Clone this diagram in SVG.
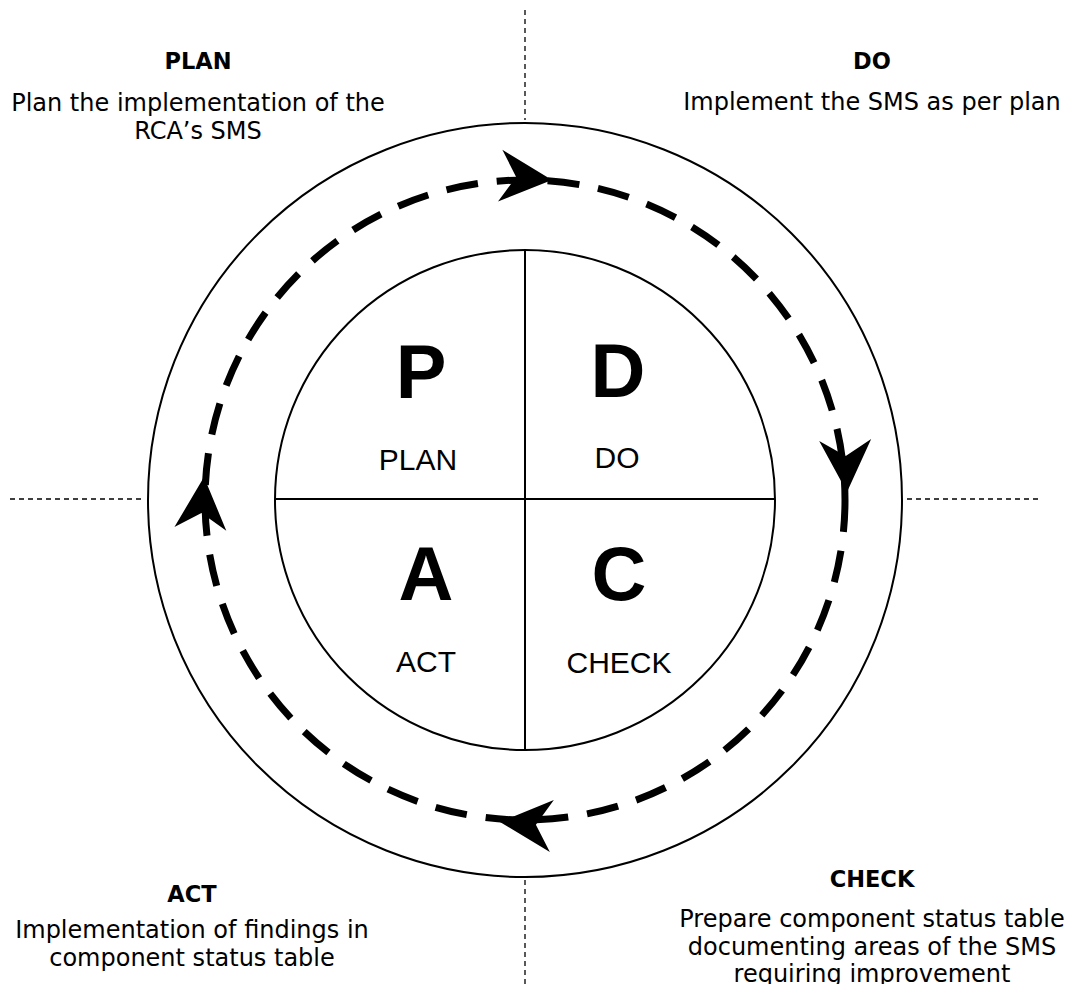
<svg xmlns="http://www.w3.org/2000/svg" width="1079" height="984" viewBox="0 0 1079 984">
<style>
.ring{fill:none;stroke:#000;stroke-width:2}
.div{stroke:#000;stroke-width:2}
.guide{stroke:#000;stroke-width:1.3;stroke-dasharray:5 4;fill:none}
.cycle{fill:none;stroke:#000;stroke-width:7;stroke-dasharray:32 19}
.big{font-family:"Liberation Sans",Arial,sans-serif;font-weight:bold;font-size:76px;text-anchor:middle;fill:#000}
.lbl{font-family:"Liberation Sans",Arial,sans-serif;font-size:30px;text-anchor:middle;fill:#000}
.hd{font-family:"DejaVu Sans",Verdana,sans-serif;font-weight:bold;font-size:22.5px;text-anchor:middle;fill:#000}
.bd{font-family:"DejaVu Sans",Verdana,sans-serif;font-size:24px;text-anchor:middle;fill:#000}
</style>
<defs>
<path id="ah" d="M0,0 L-52,-26 L-36,0 L-52,26 Z" fill="#000"/>
</defs>
<g id="guides">
<line class="guide" x1="525" y1="10" x2="525" y2="120"/>
<line class="guide" x1="525" y1="880" x2="525" y2="984"/>
<line class="guide" x1="10" y1="499" x2="142" y2="499"/>
<line class="guide" x1="907" y1="499" x2="1040" y2="499"/>
</g>
<g id="outer-ring"><circle class="ring" cx="525" cy="500" r="377"/></g>
<g id="connectors">
<circle class="cycle" cx="525" cy="500" r="320"/>
<use href="#ah" transform="translate(552,180) rotate(4.8)"/>
<use href="#ah" transform="translate(847,492) rotate(88)"/>
<use href="#ah" transform="translate(500,822) rotate(184.4)"/>
<use href="#ah" transform="translate(204,477) rotate(-86)"/>
</g>
<g id="inner-circle">
<circle class="ring" cx="525" cy="500" r="250"/>
<line class="div" x1="525" y1="250" x2="525" y2="750"/>
<line class="div" x1="275" y1="499" x2="775" y2="499"/>
</g>
<g id="node-plan">
<text class="big" x="421" y="398">P</text>
<text class="lbl" x="418" y="470">PLAN</text>
</g>
<g id="node-do">
<text class="big" x="618" y="397">D</text>
<text class="lbl" x="617" y="468">DO</text>
</g>
<g id="node-act">
<text class="big" x="426" y="600">A</text>
<text class="lbl" x="426" y="672">ACT</text>
</g>
<g id="node-check">
<text class="big" x="619" y="600">C</text>
<text class="lbl" x="619" y="673">CHECK</text>
</g>
<g id="desc-plan">
<text class="hd" x="198" y="69">PLAN</text>
<text class="bd" x="198" y="111">Plan the implementation of the</text>
<text class="bd" x="198" y="139">RCA’s SMS</text>
</g>
<g id="desc-do">
<text class="hd" x="872" y="69">DO</text>
<text class="bd" x="872" y="110">Implement the SMS as per plan</text>
</g>
<g id="desc-act">
<text class="hd" x="192" y="902">ACT</text>
<text class="bd" x="192" y="938">Implementation of findings in</text>
<text class="bd" x="192" y="966">component status table</text>
</g>
<g id="desc-check">
<text class="hd" x="872" y="887">CHECK</text>
<text class="bd" x="872" y="927">Prepare component status table</text>
<text class="bd" x="872" y="955">documenting areas of the SMS</text>
<text class="bd" x="872" y="982">requiring improvement</text>
</g>
</svg>
